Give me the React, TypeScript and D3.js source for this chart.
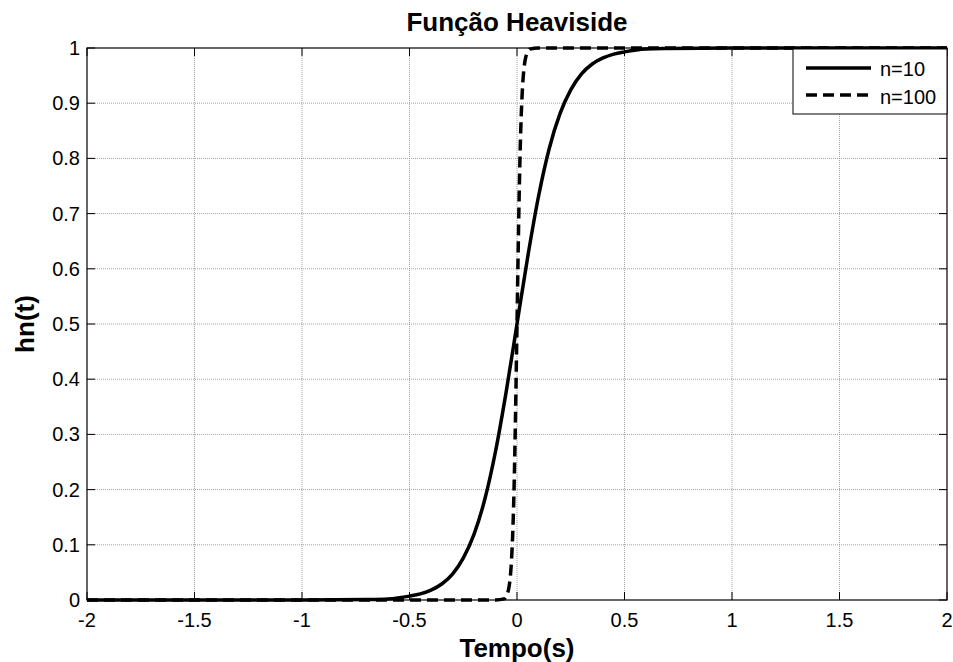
import React, { useEffect } from "react";
import * as d3 from "d3";

const W = 953;
const H = 662;

const xTicks = [-2, -1.5, -1, -0.5, 0, 0.5, 1, 1.5, 2];
const xTickLabels = ["-2", "-1.5", "-1", "-0.5", "0", "0.5", "1", "1.5", "2"];
const yTicks = [0, 0.1, 0.2, 0.3, 0.4, 0.5, 0.6, 0.7, 0.8, 0.9, 1];
const yTickLabels = ["0", "0.1", "0.2", "0.3", "0.4", "0.5", "0.6", "0.7", "0.8", "0.9", "1"];

const n10T = [-2, -1, -0.7, -0.6, -0.5, -0.45, -0.4, -0.35, -0.3, -0.25, -0.2, -0.15, -0.1, -0.05, 0, 0.05, 0.1, 0.15, 0.2, 0.25, 0.3, 0.35, 0.4, 0.45, 0.5, 0.6, 0.7, 1, 2];
const n10Y = [0, 0, 0.001, 0.002, 0.007, 0.011, 0.018, 0.029, 0.047, 0.076, 0.119, 0.182, 0.269, 0.378, 0.5, 0.622, 0.731, 0.818, 0.881, 0.924, 0.953, 0.971, 0.982, 0.989, 0.993, 0.998, 0.999, 1, 1];

const n100T = [-2, -0.1, -0.06, -0.05, -0.04, -0.035, -0.03, -0.025, -0.02, -0.015, -0.01, -0.005, 0, 0.005, 0.01, 0.015, 0.02, 0.025, 0.03, 0.035, 0.04, 0.05, 0.06, 0.1, 2];
const n100Y = [0, 0, 0.002, 0.007, 0.018, 0.029, 0.047, 0.076, 0.119, 0.182, 0.269, 0.378, 0.5, 0.622, 0.731, 0.818, 0.881, 0.924, 0.953, 0.971, 0.982, 0.993, 0.998, 1, 1];

const seriesNames = ["n=10", "n=100"];

const FONT = "'Liberation Sans', Arial, Helvetica, sans-serif";

export default function App() {
  useEffect(() => {
    document.body.style.margin = "0";
  }, []);

  const left = 87, right = 947, top = 48, bottom = 600;
  const x = d3.scaleLinear().domain([-2, 2]).range([left, right]);
  const y = d3.scaleLinear().domain([0, 1]).range([bottom, top]);
  const line = d3
    .line<[number, number]>()
    .x((d) => x(d[0]))
    .y((d) => y(d[1]))
    .curve(d3.curveMonotoneX);

  const s10 = n10T.map((t, i) => [t, n10Y[i]] as [number, number]);
  const s100 = n100T.map((t, i) => [t, n100Y[i]] as [number, number]);
  const tickLen = 8;
  const lw = 3.5;
  const dash = "11,6";

  const lgX = 793, lgY = 49, lgW = 154, lgH = 65;

  return (
    <svg width={W} height={H} style={{ display: "block", background: "#fff" }} fontFamily={FONT}>
      <rect x={0} y={0} width={W} height={H} fill="#fff" />
      {/* grid */}
      {xTicks.slice(1, -1).map((t) => (
        <line key={"gx" + t} x1={x(t)} x2={x(t)} y1={top} y2={bottom} stroke="#8a8a8a" strokeWidth={0.8} strokeDasharray="1,1" />
      ))}
      {yTicks.slice(1, -1).map((t) => (
        <line key={"gy" + t} x1={left} x2={right} y1={y(t)} y2={y(t)} stroke="#8a8a8a" strokeWidth={0.8} strokeDasharray="1,1" />
      ))}
      {/* ticks */}
      {xTicks.map((t) => (
        <g key={"tx" + t}>
          <line x1={x(t)} x2={x(t)} y1={bottom} y2={bottom - tickLen} stroke="#000" strokeWidth={1} />
          <line x1={x(t)} x2={x(t)} y1={top} y2={top + tickLen} stroke="#000" strokeWidth={1} />
        </g>
      ))}
      {yTicks.map((t) => (
        <g key={"ty" + t}>
          <line x1={left} x2={left + tickLen} y1={y(t)} y2={y(t)} stroke="#000" strokeWidth={1} />
          <line x1={right} x2={right - tickLen} y1={y(t)} y2={y(t)} stroke="#000" strokeWidth={1} />
        </g>
      ))}
      {/* box */}
      <rect x={left} y={top} width={right - left} height={bottom - top} fill="none" stroke="#000" strokeWidth={1.2} />
      {/* tick labels */}
      {xTicks.map((t, i) => (
        <text key={"lx" + t} x={x(t)} y={627} textAnchor="middle" fontSize={20} fill="#000">
          {xTickLabels[i]}
        </text>
      ))}
      {yTicks.map((t, i) => (
        <text key={"ly" + t} x={80} y={y(t) + 7} textAnchor="end" fontSize={20} fill="#000">
          {yTickLabels[i]}
        </text>
      ))}
      {/* curves */}
      <path d={line(s10) || ""} fill="none" stroke="#000" strokeWidth={lw} strokeLinejoin="round" />
      <path d={line(s100) || ""} fill="none" stroke="#000" strokeWidth={lw} strokeDasharray={dash} />
      {/* title and labels */}
      <text x={(left + right) / 2} y={31} textAnchor="middle" fontSize={26} fontWeight="bold" fill="#000">
        Função Heaviside
      </text>
      <text x={(left + right) / 2} y={657} textAnchor="middle" fontSize={26} fontWeight="bold" fill="#000">
        Tempo(s)
      </text>
      <text transform={`translate(34,${(top + bottom) / 2}) rotate(-90)`} textAnchor="middle" fontSize={26} fontWeight="bold" fill="#000">
        hn(t)
      </text>
      {/* legend */}
      <rect x={lgX} y={lgY} width={lgW} height={lgH} fill="#fff" stroke="#000" strokeWidth={1} />
      <line x1={806} x2={871} y1={68} y2={68} stroke="#000" strokeWidth={lw} />
      <line x1={806} x2={871} y1={95} y2={95} stroke="#000" strokeWidth={lw} strokeDasharray={dash} />
      <text x={880} y={76} fontSize={20} fill="#000">{seriesNames[0]}</text>
      <text x={880} y={104} fontSize={20} fill="#000">{seriesNames[1]}</text>
    </svg>
  );
}
